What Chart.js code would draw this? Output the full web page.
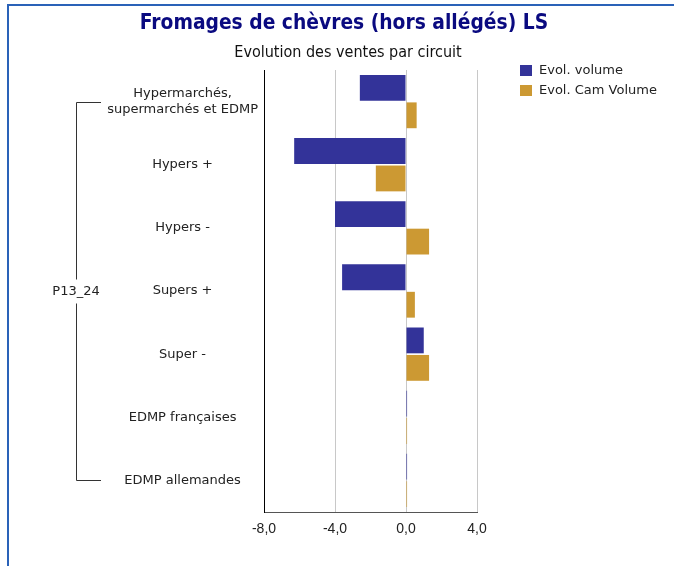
<!DOCTYPE html>
<html>
<head>
<meta charset="utf-8">
<script src="https://cdn.jsdelivr.net/npm/chart.js@4.4.1/dist/chart.umd.min.js"></script>
<style>
  html, body { margin: 0; padding: 0; background: #fff; }
  #wrap { width: 674px; height: 566px; }
</style>
</head>
<body>
<div id="wrap"><canvas id="chart" width="674" height="566"></canvas></div>
<script>
// donnees
const titre = "Fromages de chèvres (hors allégés) LS";
const sousTitre = "Evolution des ventes par circuit";
const periode = "P13_24";
const circuits = [
  ["Hypermarchés,", "supermarchés et EDMP"],
  "Hypers +",
  "Hypers -",
  "Supers +",
  "Super -",
  "EDMP françaises",
  "EDMP allemandes"
];
const seriesNoms = ["Evol. volume", "Evol. Cam Volume"];
const evolVolume = [-2.6, -6.3, -4.0, -3.6, 1.0, 0.06, 0.06];
const evolCamVolume = [0.6, -1.7, 1.3, 0.5, 1.3, 0.06, 0.06];
const xTicks = [-8, -4, 0, 4];

const bleu = "#333399";
const ocre = "#CC9933";
const police = "'DejaVu Sans', sans-serif";
const policeTitre = "'DejaVu Sans Condensed', 'DejaVu Sans', sans-serif";

// cadre, titres, accolade P13_24 et legende
const decor = {
  id: "decor",
  beforeDraw(chart) {
    const { ctx } = chart;
    ctx.save();
    ctx.fillStyle = "#fff";
    ctx.fillRect(0, 0, chart.width, chart.height);
    ctx.strokeStyle = "#2a62b8";
    ctx.lineWidth = 2;
    ctx.beginPath();
    ctx.moveTo(chart.width, 5);
    ctx.lineTo(8, 5);
    ctx.lineTo(8, chart.height);
    ctx.stroke();
    ctx.restore();
  },
  afterDraw(chart) {
    const { ctx, scales: { y } } = chart;
    ctx.save();
    ctx.textAlign = "center";
    ctx.textBaseline = "middle";
    ctx.fillStyle = "#0a0a80";
    ctx.font = "bold 20.8px " + policeTitre;
    ctx.fillText(titre, 344, 24);
    ctx.fillStyle = "#111";
    ctx.font = "16px " + policeTitre;
    ctx.fillText(sousTitre, 348, 53);

    // accolade
    const y0 = Math.round(y.getPixelForValue(0)) + 0.5;
    const y1 = Math.round(y.getPixelForValue(circuits.length - 1)) + 0.5;
    const ym = (y0 + y1) / 2;
    const xb = 76.5;
    ctx.strokeStyle = "#333";
    ctx.lineWidth = 1;
    ctx.beginPath();
    ctx.moveTo(101, y0); ctx.lineTo(xb, y0); ctx.lineTo(xb, ym - 12);
    ctx.moveTo(xb, ym + 12); ctx.lineTo(xb, y1); ctx.lineTo(101, y1);
    ctx.stroke();
    ctx.fillStyle = "#222";
    ctx.font = "13px " + police;
    ctx.fillText(periode, 76, ym);

    // legende
    ctx.textAlign = "left";
    chart.data.datasets.forEach((ds, i) => {
      const ly = 65 + i * 20;
      ctx.fillStyle = ds.backgroundColor;
      ctx.fillRect(520, ly, 12, 11);
      ctx.fillStyle = "#222";
      ctx.fillText(ds.label, 539, ly + 6);
    });
    ctx.restore();
  }
};

new Chart(document.getElementById("chart"), {
  type: "bar",
  data: {
    labels: circuits,
    datasets: [
      { label: seriesNoms[0], data: evolVolume, backgroundColor: bleu },
      { label: seriesNoms[1], data: evolCamVolume, backgroundColor: ocre }
    ]
  },
  options: {
    indexAxis: "y",
    responsive: false,
    animation: false,
    categoryPercentage: 0.87,
    barPercentage: 0.94,
    layout: { padding: { top: 70, left: 100, right: 197, bottom: 24 } },
    plugins: {
      legend: { display: false },
      title: { display: false },
      tooltip: { enabled: false }
    },
    scales: {
      x: {
        min: -8,
        max: 4,
        afterBuildTicks(scale) { scale.ticks = xTicks.map(v => ({ value: v })); },
        afterFit(scale) { scale.height = 30; },
        grid: {
          drawTicks: false,
          color: (c) => (c.tick && c.tick.value === -8 ? "rgba(0,0,0,0)" : "#c8c8c8"),
          lineWidth: 1
        },
        border: { display: true, color: "#555", width: 1 },
        ticks: {
          padding: 9,
          color: "#222",
          font: { family: "'Liberation Sans', Arial, sans-serif", size: 14 },
          callback: (v) => v.toFixed(1).replace(".", ",")
        }
      },
      y: {
        afterFit(scale) { scale.width = 164; },
        grid: { display: false, drawTicks: false },
        border: { display: true, color: "#000", width: 1 },
        ticks: {
          crossAlign: "center",
          padding: 6,
          color: "#222",
          font: { family: police, size: 13, lineHeight: 1.23 }
        }
      }
    }
  },
  plugins: [decor]
});
</script>
</body>
</html>
